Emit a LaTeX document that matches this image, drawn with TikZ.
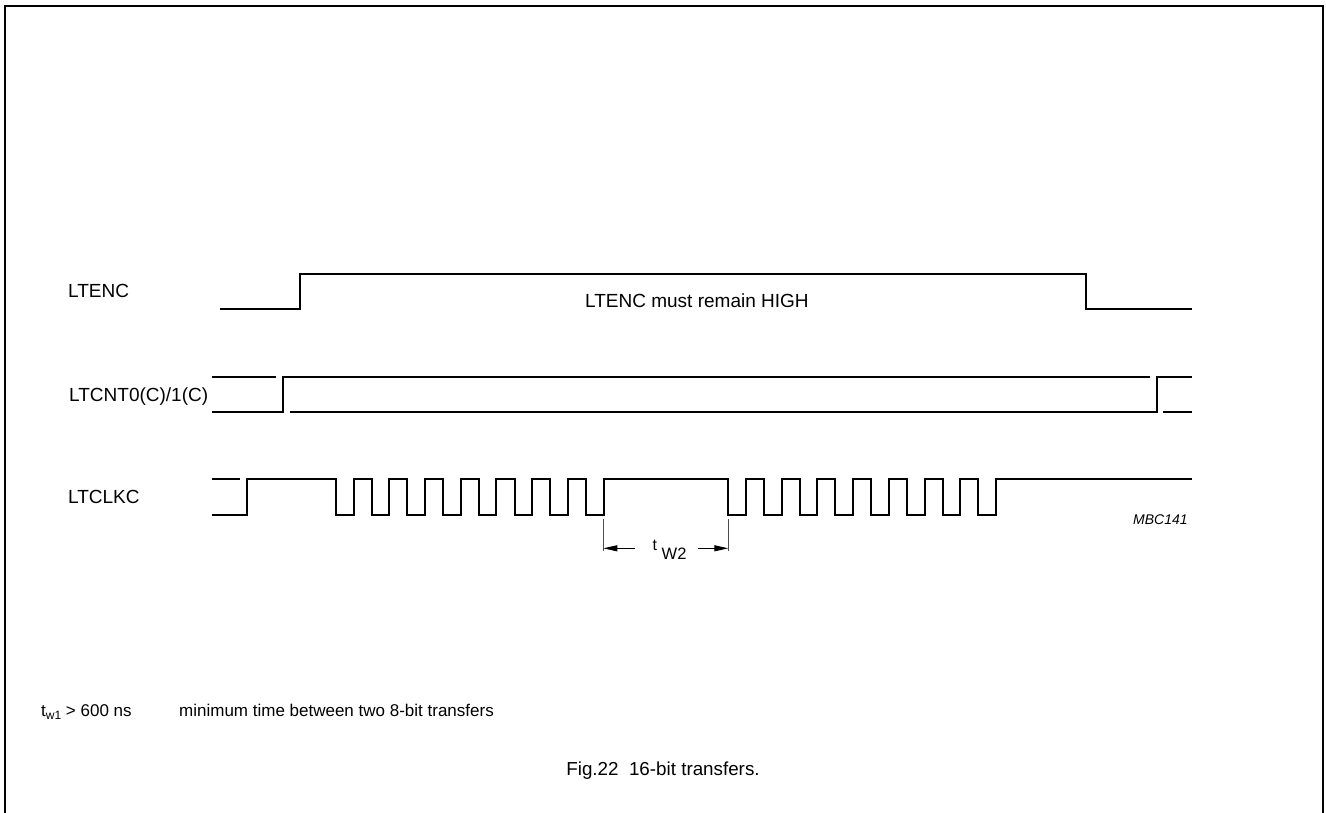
\documentclass[tikz,border=0pt]{standalone}
\usepackage{fontspec}
\setmainfont{Liberation Sans}
\usetikzlibrary{arrows.meta}
\tikzset{
  sig/.style={line width=2pt, line join=miter, line cap=butt},
  frame/.style={line width=2pt},
  dim/.style={line width=0.8pt, black!70},
  lbl/.style={inner sep=0pt, anchor=base west, font=\fontsize{19}{21}\selectfont},
  note/.style={inner sep=0pt, anchor=base west, font=\fontsize{17}{19}\selectfont},
  darrow/.style={line width=1pt, -{Triangle[length=14pt,width=6pt]}}
}
\begin{document}
\begin{tikzpicture}[x=1pt,y=-1pt]
\useasboundingbox (0,0) rectangle (1326,813);
% frame (open at bottom)
\draw[frame] (4.5,813) -- (4.5,6) -- (1322.5,6) -- (1322.5,813);

% labels
\node[lbl] (lenc) at (68,298) {LTENC};
\node[lbl] (lcnt) at (69,401.7) {LTCNT0(C)/1(C)};
\node[lbl] (lclk) at (68,503) {LTCLKC};
\node[lbl] (high) at (585,307) {LTENC must remain HIGH};
\node[inner sep=0pt, anchor=base west, font=\fontsize{14}{16}\selectfont\itshape] (mbc) at (1133,524) {MBC141};

% LTENC
\draw[sig] (220,309) -- (300,309) -- (300,274) -- (1086,274) -- (1086,309) -- (1192,309);

% LTCNT0(C)/1(C)
\draw[sig] (212,377) -- (276,377);
\draw[sig] (212,412) -- (283,412) -- (283,377) -- (1150,377);
\draw[sig] (290,412) -- (1157,412) -- (1157,377) -- (1192,377);
\draw[sig] (1163,412) -- (1192,412);

% LTCLKC
\draw[sig] (212,479) -- (240,479);
\draw[sig] (212,515) -- (247,515) -- (247,479) -- (336,479)
  \foreach \k in {0,...,7} {
    -- ({336+35.72*\k},479) -- ({336+35.72*\k},515) -- ({353.5+35.72*\k},515) -- ({353.5+35.72*\k},479)
  }
  -- (728.3,479)
  \foreach \k in {0,...,7} {
    -- ({728.3+35.7*\k},479) -- ({728.3+35.7*\k},515) -- ({746+35.7*\k},515) -- ({746+35.7*\k},479)
  }
  -- (1192,479);

% t_W2 dimension
\coordinate (da) at (603.3,519);
\coordinate (db) at (728.3,519);
\draw[dim] (da) -- ++(0,32);
\draw[dim] (db) -- ++(0,32);
\coordinate (la) at (603.3,548.3);
\coordinate (lb) at (728.3,548.3);
\draw[darrow] (635,548.3) -- (la);
\draw[darrow] (698,548.3) -- (lb);
\node[inner sep=0pt, anchor=base west, font=\fontsize{16}{18}\selectfont] (tw2t) at (652.5,550.5) {t};
\node[inner sep=0pt, anchor=base west, font=\fontsize{16.5}{18}\selectfont] (tw2s) at (661.5,559) {W2};

% notes
\node[note] (tw1) at (41,716) {t\raisebox{-3pt}{\fontsize{12}{14}\selectfont w1} > 600 ns};
\node[note] (min) at (179,716) {minimum time between two 8-bit transfers};
\node[inner sep=0pt, anchor=base, font=\fontsize{18.8}{21}\selectfont] (cap) at (663,775) {Fig.22\ \ 16-bit transfers.};
\end{tikzpicture}
\end{document}
